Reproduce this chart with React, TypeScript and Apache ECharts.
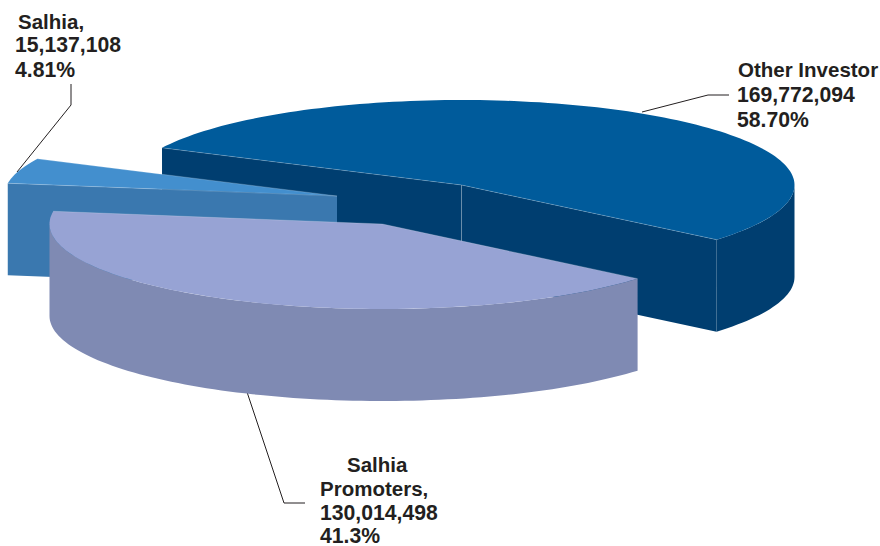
import React, { useEffect, useRef } from "react";
import * as echarts from "echarts";

// Shareholder names, share counts and the printed figures beside them.
const holders = ["Other Investor", "Salhia", "Salhia Promoters"];
const shareCounts = [169772094, 15137108, 130014498];
const countLabels = ["169,772,094", "15,137,108", "130,014,498"];
const percentLabels = ["58.70%", "4.81%", "41.3%"];

const topColors = ["#005b9b", "#438fce", "#97a3d4"];
const wallColors = ["#003e70", "#3a78af", "#7f8ab3"];
const sliceCentres = [
  [461.5, 185],
  [337, 196],
  [382.5, 224],
];

const RX = 333;
const RY = 85;
const DEPTH = 92;
const START_DEG = 40;
const ARC_STEP = 1.5;
const INK = "#231f20";
const NAME_FONT = 'bold 20.5px "Liberation Sans", Arial, sans-serif';
const FIGURE_FONT = 'bold 21.2px "Liberation Sans", Arial, sans-serif';

const rad = (d: number) => (d * Math.PI) / 180;

function rim(c: number[], deg: number, drop = 0): number[] {
  return [c[0] + RX * Math.cos(rad(deg)), c[1] + RY * Math.sin(rad(deg)) + drop];
}

function arc(c: number[], from: number, to: number, drop = 0): number[][] {
  const pts: number[][] = [];
  const n = Math.max(1, Math.ceil(Math.abs(to - from) / ARC_STEP));
  for (let i = 0; i <= n; i++) pts.push(rim(c, from + ((to - from) * i) / n, drop));
  return pts;
}

// Each slice sweeps back from its predecessor, in the order of the data.
function sweep(index: number): [number, number] {
  const total = shareCounts.reduce((a, b) => a + b, 0);
  let end = START_DEG;
  for (let i = 0; i < index; i++) end -= (shareCounts[i] / total) * 360;
  return [end - (shareCounts[index] / total) * 360, end];
}

function radialWall(c: number[], deg: number, fill: string) {
  const p = rim(c, deg);
  return {
    type: "polygon",
    shape: { points: [c, p, [p[0], p[1] + DEPTH], [c[0], c[1] + DEPTH]] },
    style: { fill },
  };
}

function renderSlice(params: any) {
  const i = params.dataIndex;
  const c = sliceCentres[i];
  const [t0, t1] = sweep(i);
  const children: any[] = [];
  const startVisible = -Math.cos(rad(t0)) > 0;
  const endVisible = Math.cos(rad(t1)) > 0;

  if (startVisible) children.push(radialWall(c, t0, wallColors[i]));
  if (endVisible) children.push(radialWall(c, t1, wallColors[i]));
  if (startVisible && endVisible) {
    children.push({
      type: "line",
      shape: { x1: c[0], y1: c[1], x2: c[0], y2: c[1] + DEPTH },
      style: { stroke: "rgba(255,255,255,0.22)", lineWidth: 1 },
    });
  }

  // Outer rim wall: only the parts of the arc that face the viewer.
  for (const turn of [-360, 0]) {
    const a = Math.max(t0, turn);
    const b = Math.min(t1, turn + 180);
    if (b > a) {
      children.push({
        type: "polygon",
        shape: { points: [...arc(c, a, b), ...arc(c, b, a, DEPTH)] },
        style: { fill: wallColors[i] },
      });
    }
  }

  const edge = [rim(c, t0), c, rim(c, t1)];
  children.push({
    type: "polygon",
    shape: { points: [c, ...arc(c, t0, t1)] },
    style: { fill: topColors[i] },
  });
  children.push({
    type: "polyline",
    shape: { points: edge },
    style: { stroke: "rgba(255,255,255,0.25)", lineWidth: 0.8, fill: "none" },
  });
  return { type: "group", children };
}

function textLine(text: string, x: number, y: number, font = NAME_FONT) {
  return {
    type: "text",
    x,
    y,
    style: { text, font, fill: INK, align: "left", verticalAlign: "middle" },
  };
}

function leader(points: number[][]) {
  return {
    type: "polyline",
    shape: { points },
    style: { stroke: INK, lineWidth: 1, fill: "none" },
  };
}

export default function App() {
  const ref = useRef<HTMLDivElement>(null);

  useEffect(() => {
    const chart = echarts.init(ref.current!, undefined, { renderer: "svg" });
    const [otherName, salhiaName, promotersName] = holders;
    const promoterWords = promotersName.split(" ");
    chart.setOption({
      animation: false,
      backgroundColor: "#ffffff",
      series: [
        {
          type: "custom",
          coordinateSystem: "none",
          silent: true,
          clip: false,
          renderItem: renderSlice,
          data: shareCounts,
        },
      ],
      graphic: {
        elements: [
          leader([[17, 172], [71, 105], [71, 84]]),
          leader([[642, 112], [708, 95], [729, 95]]),
          leader([[247, 392], [284, 503], [305, 503]]),
          textLine(`${salhiaName},`, 18, 21),
          textLine(countLabels[1], 15, 44, FIGURE_FONT),
          textLine(percentLabels[1], 15, 69, FIGURE_FONT),
          textLine(otherName, 738, 69),
          textLine(countLabels[0], 737, 94, FIGURE_FONT),
          textLine(percentLabels[0], 737, 119, FIGURE_FONT),
          textLine(promoterWords[0], 347, 464),
          textLine(`${promoterWords[1]},`, 320, 488.5),
          textLine(countLabels[2], 320, 512.5, FIGURE_FONT),
          textLine(percentLabels[2], 320, 535, FIGURE_FONT),
        ],
      },
    });
    return () => chart.dispose();
  }, []);

  return (
    <div
      ref={ref}
      style={{ position: "absolute", left: 0, top: 0, width: 880, height: 546 }}
    />
  );
}
